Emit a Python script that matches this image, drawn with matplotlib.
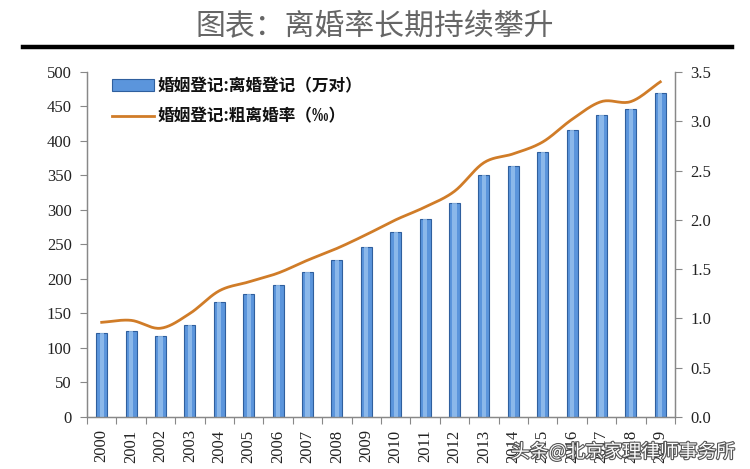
import numpy as np
import matplotlib
matplotlib.use("Agg")
import matplotlib.pyplot as plt
import matplotlib.patheffects as pe
from matplotlib.ticker import FixedLocator, FormatStrFormatter

years = ["2000", "2001", "2002", "2003", "2004", "2005", "2006", "2007", "2008", "2009",
         "2010", "2011", "2012", "2013", "2014", "2015", "2016", "2017", "2018", "2019"]
divorces = [121.3, 125.1, 117.7, 133.1, 166.5, 178.5, 191.3, 209.8, 226.9, 246.8,
            267.8, 287.4, 310.4, 350.0, 363.7, 384.1, 415.8, 437.4, 446.1, 470.1]
rate = [0.96, 0.98, 0.90, 1.05, 1.28, 1.37, 1.46, 1.59, 1.71, 1.85,
        2.00, 2.13, 2.29, 2.58, 2.67, 2.79, 3.02, 3.20, 3.20, 3.40]
left_ticks = [0, 50, 100, 150, 200, 250, 300, 350, 400, 450, 500]
right_ticks = [0.0, 0.5, 1.0, 1.5, 2.0, 2.5, 3.0, 3.5]
title = "图表：离婚率长期持续攀升"
bar_label = "婚姻登记:离婚登记（万对）"
line_label = "婚姻登记:粗离婚率（‰）"
watermark = "头条@北京家理律师事务所"

CJK = ["Noto Sans CJK SC", "DejaVu Sans"]
SERIF = "Liberation Serif"


def smooth(xs, ys, n=20):
    """Catmull-Rom rendering of the line (like Excel's smoothed line)."""
    xs = np.asarray(xs, float)
    ys = np.asarray(ys, float)
    px = np.concatenate([[2 * xs[0] - xs[1]], xs, [2 * xs[-1] - xs[-2]]])
    py = np.concatenate([[2 * ys[0] - ys[1]], ys, [2 * ys[-1] - ys[-2]]])
    outx, outy = [], []
    t = np.linspace(0, 1, n, endpoint=False)
    for i in range(1, len(px) - 2):
        p0, p1, p2, p3 = [np.array([px[j], py[j]]) for j in range(i - 1, i + 3)]
        for tt in t:
            pt = 0.5 * ((2 * p1) + (-p0 + p2) * tt + (2 * p0 - 5 * p1 + 4 * p2 - p3) * tt ** 2
                        + (-p0 + 3 * p1 - 3 * p2 + p3) * tt ** 3)
            outx.append(pt[0]); outy.append(pt[1])
    outx.append(xs[-1]); outy.append(ys[-1])
    return np.array(outx), np.array(outy)


fig = plt.figure(figsize=(7.5, 4.69), dpi=100)
ax = fig.add_axes([0.116, 0.111, 0.784, 0.7355])
ax2 = ax.twinx()

x = np.arange(len(years))
bars = ax.bar(x, divorces, width=0.38, color="#5b95dc", edgecolor="#2f5f9e",
              linewidth=0.8, label=bar_label, zorder=2)
# lighter centre stripe to mimic the gradient fill
ax.bar(x, divorces, width=0.14, color="#9cc4ef", linewidth=0, zorder=3, alpha=0.75)

sx, sy = smooth(x, rate)
line, = ax2.plot(sx, sy, color="#d07c28", linewidth=2.0, label=line_label, zorder=4)

ax.set_xlim(-0.5, len(years) - 0.5)
ax.set_ylim(0, 500)
ax2.set_ylim(0, 3.5)

ax.set_yticks(left_ticks)
ax2.set_yticks(right_ticks)
ax2.yaxis.set_major_formatter(FormatStrFormatter("%.1f"))

ax.set_xticks(x)
ax.set_xticklabels(years, rotation=90, fontfamily=SERIF, fontsize=12, color="#222222")
ax.tick_params(axis="x", which="major", length=0, pad=9)
ax.xaxis.set_minor_locator(FixedLocator(np.arange(-0.5, len(years), 1.0)))
ax.tick_params(axis="x", which="minor", length=5, color="#888888", width=0.8)

for a in (ax, ax2):
    for lab in a.get_yticklabels():
        lab.set_fontfamily(SERIF)
        lab.set_fontsize(12)
        lab.set_color("#222222")
ax.tick_params(axis="y", length=5, color="#888888", width=0.8, pad=6)
ax2.tick_params(axis="y", length=5, color="#888888", width=0.8, pad=6)

for a in (ax, ax2):
    a.spines["top"].set_visible(False)
    for s in ("left", "right", "bottom"):
        a.spines[s].set_color("#888888")
        a.spines[s].set_linewidth(0.9)

leg = ax.legend(handles=[bars, line], loc="upper left", bbox_to_anchor=(0.032, 1.005),
                frameon=False, prop={"family": CJK, "weight": "bold", "size": 12},
                handlelength=2.5, handleheight=0.7, labelspacing=0.75, handletextpad=0.2,
                borderaxespad=0.0)
for t in leg.get_texts():
    t.set_color("#111111")

fig.text(0.5, 0.944, title, ha="center", va="center", fontsize=21.5,
         family=CJK, color="#666666", weight="light")
fig.add_artist(plt.Line2D([0.031, 0.976], [0.9, 0.9], transform=fig.transFigure,
                          color="black", linewidth=3.2))

fig.text(0.98, 0.036, watermark, ha="right", va="center", fontsize=13.5, family=CJK,
         color="white", path_effects=[pe.withStroke(linewidth=1.6, foreground="#555555")])

fig.savefig("out.png", dpi=100)
